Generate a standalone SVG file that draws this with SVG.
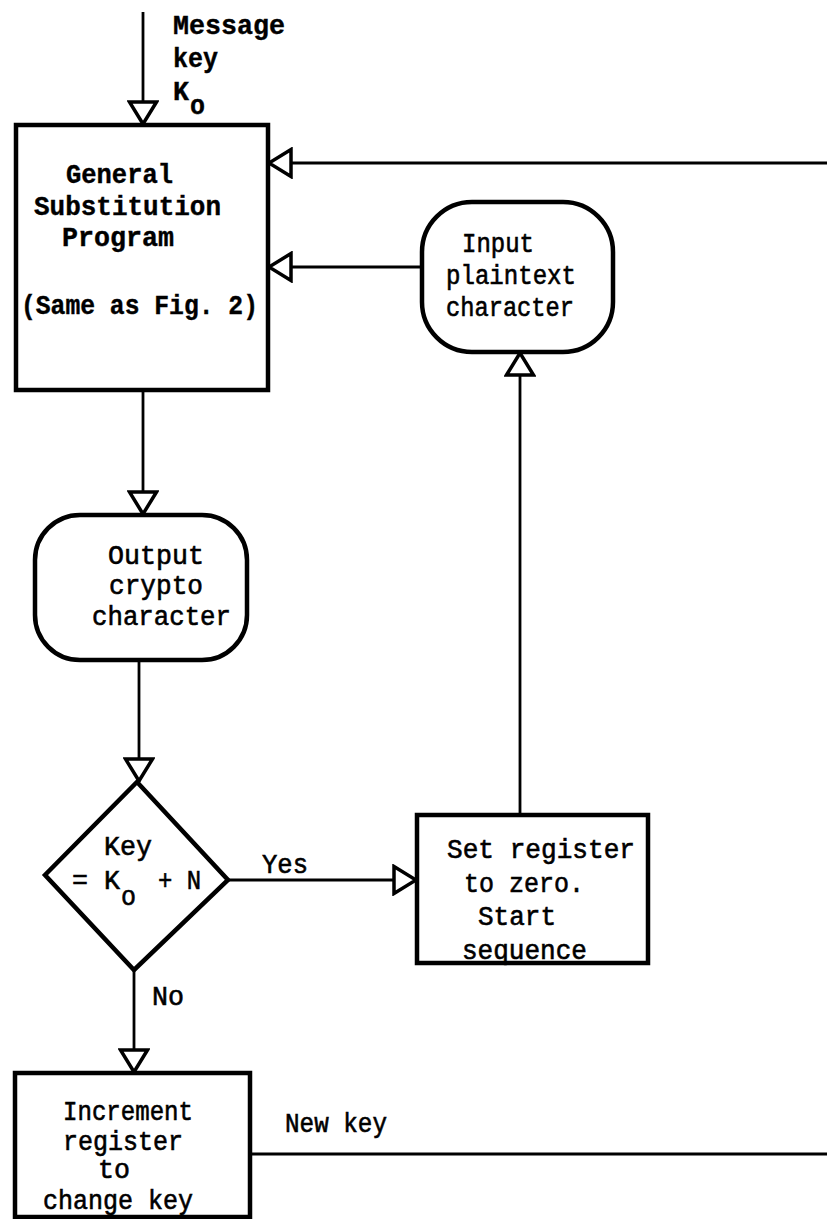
<svg xmlns="http://www.w3.org/2000/svg" width="827" height="1219" viewBox="0 0 827 1219">
<style>
.box{fill:#fff;stroke:#000;stroke-width:4.5}
.ln{fill:none;stroke:#000;stroke-width:2.8}
.t{font-family:"Liberation Mono","Courier New",monospace;font-size:27px;fill:#000;stroke:#000;stroke-width:0.6}
.b{font-weight:bold;stroke-width:0.4}
</style>
<defs>
<marker id="arr" viewBox="0 0 26 32" refX="25" refY="16" markerWidth="26" markerHeight="32" markerUnits="userSpaceOnUse" orient="auto">
<path d="M2,2.5 L24,16 L2,29.5 Z" fill="#fff" stroke="#000" stroke-width="3.5" stroke-linejoin="miter"/>
</marker>
</defs>

<g id="connectors">
<path class="ln" d="M143,12 L143,125" marker-end="url(#arr)"/>
<path class="ln" d="M827,163 L268,163" marker-end="url(#arr)"/>
<path class="ln" d="M422,267 L268,267" marker-end="url(#arr)"/>
<path class="ln" d="M143,390 L143,515" marker-end="url(#arr)"/>
<path class="ln" d="M139,660 L139,782" marker-end="url(#arr)"/>
<path class="ln" d="M228,880 L417,880" marker-end="url(#arr)"/>
<path class="ln" d="M520,815 L520,352" marker-end="url(#arr)"/>
<path class="ln" d="M134,970 L134,1073" marker-end="url(#arr)"/>
<path class="ln" d="M250,1154 L827,1154"/>
<text class="t" x="262" y="873" textLength="46" lengthAdjust="spacingAndGlyphs">Yes</text>
<text class="t" x="152" y="1005" textLength="32" lengthAdjust="spacingAndGlyphs">No</text>
<text class="t" x="285" y="1132" textLength="102" lengthAdjust="spacingAndGlyphs">New key</text>
<text class="t b" x="173" y="34" textLength="112" lengthAdjust="spacingAndGlyphs">Message</text>
<text class="t b" x="173" y="67" textLength="45" lengthAdjust="spacingAndGlyphs">key</text>
<text class="t b" x="173" y="100" textLength="16" lengthAdjust="spacingAndGlyphs">K</text>
<text class="t b" x="190" y="114" textLength="15" lengthAdjust="spacingAndGlyphs">o</text>
</g>

<g id="general-substitution">
<rect class="box" x="16" y="125" width="252" height="265"/>
<text class="t b" x="66" y="183" textLength="107" lengthAdjust="spacingAndGlyphs">General</text>
<text class="t b" x="34" y="215" textLength="187" lengthAdjust="spacingAndGlyphs">Substitution</text>
<text class="t b" x="62" y="246" textLength="112" lengthAdjust="spacingAndGlyphs">Program</text>
<text class="t b" x="21" y="314" textLength="237" lengthAdjust="spacingAndGlyphs">(Same as Fig. 2)</text>
</g>

<g id="input-plaintext">
<rect class="box" x="422" y="202" width="191" height="150" rx="50" ry="50"/>
<text class="t" x="462" y="252" textLength="72" lengthAdjust="spacingAndGlyphs">Input</text>
<text class="t" x="446" y="284" textLength="130" lengthAdjust="spacingAndGlyphs">plaintext</text>
<text class="t" x="446" y="316" textLength="128" lengthAdjust="spacingAndGlyphs">character</text>
</g>

<g id="output-crypto">
<rect class="box" x="35" y="515" width="212" height="145" rx="45" ry="45"/>
<text class="t" x="108" y="564" textLength="96" lengthAdjust="spacingAndGlyphs">Output</text>
<text class="t" x="109" y="594" textLength="94" lengthAdjust="spacingAndGlyphs">crypto</text>
<text class="t" x="92" y="625" textLength="139" lengthAdjust="spacingAndGlyphs">character</text>
</g>

<g id="key-decision">
<polygon class="box" points="137,782 228,880 134,970 45,875"/>
<text class="t" x="104" y="855" textLength="48" lengthAdjust="spacingAndGlyphs">Key</text>
<text class="t" x="72" y="889" textLength="48" lengthAdjust="spacingAndGlyphs">= K</text>
<text class="t" x="121" y="905" textLength="15" lengthAdjust="spacingAndGlyphs">o</text>
<text class="t" x="158" y="889" textLength="43" lengthAdjust="spacingAndGlyphs">+ N</text>
</g>

<g id="set-register">
<rect class="box" x="417" y="815" width="231" height="148"/>
<text class="t" x="447" y="858" textLength="188" lengthAdjust="spacingAndGlyphs">Set register</text>
<text class="t" x="464" y="892" textLength="120" lengthAdjust="spacingAndGlyphs">to zero.</text>
<text class="t" x="478" y="925" textLength="78" lengthAdjust="spacingAndGlyphs">Start</text>
<text class="t" x="462" y="959" textLength="125" lengthAdjust="spacingAndGlyphs">sequence</text>
</g>

<g id="increment-register">
<rect class="box" x="15" y="1073" width="235" height="144"/>
<text class="t" x="63" y="1120" textLength="130" lengthAdjust="spacingAndGlyphs">Increment</text>
<text class="t" x="63" y="1150" textLength="120" lengthAdjust="spacingAndGlyphs">register</text>
<text class="t" x="98" y="1178" textLength="32" lengthAdjust="spacingAndGlyphs">to</text>
<text class="t" x="43" y="1209" textLength="150" lengthAdjust="spacingAndGlyphs">change key</text>
</g>
</svg>
